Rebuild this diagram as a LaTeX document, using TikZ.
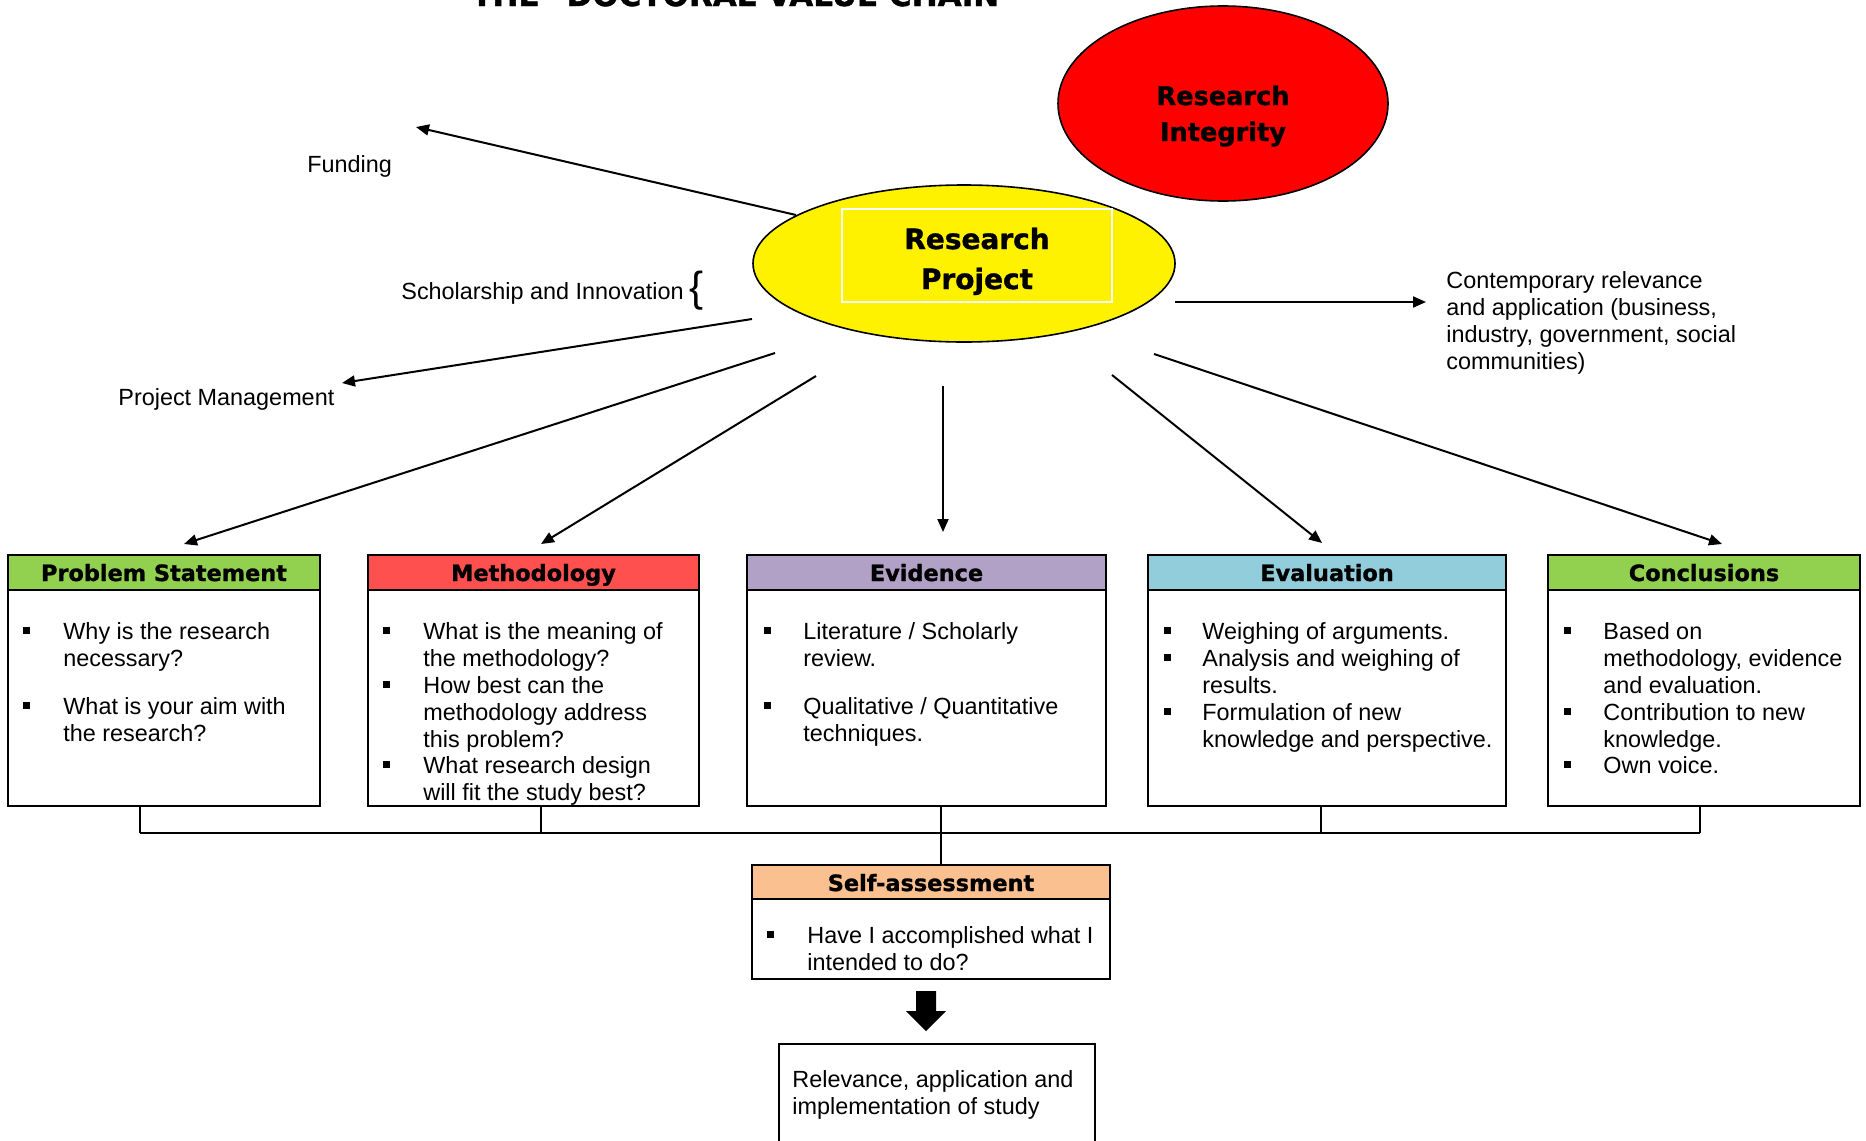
\documentclass[tikz,border=0pt]{standalone}
\usepackage{fontspec}
\setmainfont{Liberation Sans}
\newfontfamily\heavy{DejaVu Sans}[BoldFeatures={FakeBold=1.2}]
\usetikzlibrary{shapes.geometric,fit,arrows.meta,calc}
\definecolor{hgreen}{HTML}{92D050}
\definecolor{hred}{HTML}{FF5050}
\definecolor{hpurple}{HTML}{B2A1C7}
\definecolor{hblue}{HTML}{92CDDC}
\definecolor{horange}{HTML}{FAC090}
\begin{document}
% note: for multi-line nodes the base anchor is the baseline of the LAST line
\begin{tikzpicture}[x=0.5pt,y=-0.5pt,
  box/.style={draw, line width=1.2pt, inner sep=0pt},
  hdr/.style={anchor=base, inner sep=0pt, font=\heavy\bfseries\fontsize{11.2}{13}\selectfont},
  itm/.style={anchor=base west, align=left, inner sep=0pt, font=\fontsize{11.7}{13.5}\selectfont},
  lbl/.style={anchor=base west, align=left, inner sep=0pt, font=\fontsize{11.7}{13.5}\selectfont},
  bul/.style={rectangle, fill=black, minimum size=3.5pt, inner sep=0pt},
  arr/.style={-{Triangle[length=6.5pt,width=5.5pt]}, line width=1pt},
  conn/.style={line width=1pt}]
\useasboundingbox (0,0) rectangle (1866,1140);
\clip (0,0) rectangle (1866,1140);

% title (cut off at the top)
\node[anchor=base west, inner sep=0pt, font=\heavy\bfseries\fontsize{15.5}{18}\selectfont] (title) at (471,6) {THE "DOCTORAL VALUE CHAIN"};

% ellipses
\node[ellipse, draw, line width=0.8pt, fill=red, minimum width=165pt, minimum height=97.5pt, inner sep=0pt] (ri) at (1223,103.5) {};
\node[anchor=base, align=center, inner sep=0pt, font=\heavy\bfseries\fontsize{12.8}{18}\selectfont] (ritxt) at (1223,141) {Research\\Integrity};

\node[ellipse, draw, line width=0.8pt, fill=yellow, minimum width=211pt, minimum height=78.5pt, inner sep=0pt] (rp) at (964,263.5) {};
\node[draw=white, line width=0.6pt, inner sep=0pt, fit={(842,209)(1112,302)}] (rpbox) {};
\node[anchor=base, align=center, inner sep=0pt, font=\heavy\bfseries\fontsize{14}{20}\selectfont] (rptxt) at (977,289) {Research\\Project};

% side labels
\node[lbl] (funding) at (307,172) {Funding};
\node[lbl] (schol) at (401,299) {Scholarship and Innovation};
\node[anchor=base west, inner sep=0pt, font=\fontsize{21}{24}\selectfont] (brace) at (689,301) {\{};
\node[lbl] (pm) at (118,405) {Project Management};
\node[lbl] (contemp) at (1446,369) {Contemporary relevance\\and application (business,\\industry, government, social\\communities)};

% arrow end points
\coordinate (fundS) at (796,215);  \coordinate (fundE) at (416,127);
\coordinate (pmS) at (752,319);    \coordinate (pmE) at (342,383);
\coordinate (contS) at (1175,302); \coordinate (contE) at (1426,302);
\coordinate (psS) at (775,353);    \coordinate (psE) at (184,544);
\coordinate (methS) at (816,376);  \coordinate (methE) at (541,544);
\coordinate (evS) at (943,386);    \coordinate (evE) at (943,532);
\coordinate (evalS) at (1112,375); \coordinate (evalE) at (1322,543);
\coordinate (conS) at (1154,354);  \coordinate (conE) at (1722,544);

\draw[arr] (fundS) -- (fundE);
\draw[arr] (pmS) -- (pmE);
\draw[arr] (contS) -- (contE);
\draw[arr] (psS) -- (psE);
\draw[arr] (methS) -- (methE);
\draw[arr] (evS) -- (evE);
\draw[arr] (evalS) -- (evalE);
\draw[arr] (conS) -- (conE);

% boxes
\node[box, fit={(8,555)(320,806)}] (ps) {};
\node[box, fill=hgreen, fit={(8,555)(320,590)}] (psh) {};
\node[hdr] at (164,581) {Problem Statement};
\node[bul] at (26.5,630.5) {};
\node[itm] at (63,666) {Why is the research\\necessary?};
\node[bul] at (26.5,705.5) {};
\node[itm] at (63,741) {What is your aim with\\the research?};

\node[box, fit={(368,555)(699,806)}] (meth) {};
\node[box, fill=hred, fit={(368,555)(699,590)}] (methh) {};
\node[hdr] at (533.5,581) {Methodology};
\node[bul] at (386.5,630.5) {};
\node[itm] at (423,666) {What is the meaning of\\the methodology?};
\node[bul] at (386.5,684.5) {};
\node[itm] at (423,747) {How best can the\\methodology address\\this problem?};
\node[bul] at (386.5,764.5) {};
\node[itm] at (423,800) {What research design\\will fit the study best?};

\node[box, fit={(747,555)(1106,806)}] (ev) {};
\node[box, fill=hpurple, fit={(747,555)(1106,590)}] (evh) {};
\node[hdr] at (926.5,581) {Evidence};
\node[bul] at (767,630.5) {};
\node[itm] at (803,666) {Literature / Scholarly\\review.};
\node[bul] at (767,705.5) {};
\node[itm] at (803,741) {Qualitative / Quantitative\\techniques.};

\node[box, fit={(1148,555)(1506,806)}] (eval) {};
\node[box, fill=hblue, fit={(1148,555)(1506,590)}] (evalh) {};
\node[hdr] at (1327,581) {Evaluation};
\node[bul] at (1167,630.5) {};
\node[itm] at (1202,639) {Weighing of arguments.};
\node[bul] at (1167,657.5) {};
\node[itm] at (1202,693) {Analysis and weighing of\\results.};
\node[bul] at (1167,711.5) {};
\node[itm] at (1202,747) {Formulation of new\\knowledge and perspective.};

\node[box, fit={(1548,555)(1860,806)}] (con) {};
\node[box, fill=hgreen, fit={(1548,555)(1860,590)}] (conh) {};
\node[hdr] at (1704,581) {Conclusions};
\node[bul] at (1567,630.5) {};
\node[itm] at (1603,693) {Based on\\methodology, evidence\\and evaluation.};
\node[bul] at (1567,711.5) {};
\node[itm] at (1603,747) {Contribution to new\\knowledge.};
\node[bul] at (1567,764.5) {};
\node[itm] at (1603,773) {Own voice.};

% bracket connector
\coordinate (b1) at (140,833);
\coordinate (b2) at (541,833);
\coordinate (b3) at (941,833);
\coordinate (b4) at (1321,833);
\coordinate (b5) at (1700,833);
\draw[conn] (ps.south -| b1) -- (b1);
\draw[conn] (meth.south -| b2) -- (b2);
\draw[conn] (ev.south -| b3) -- (b3);
\draw[conn] (eval.south -| b4) -- (b4);
\draw[conn] (con.south -| b5) -- (b5);
\draw[conn] (b1) -- (b5);

% self-assessment
\node[box, fit={(752,865)(1110,979)}] (sa) {};
\node[box, fill=horange, fit={(752,865)(1110,899)}] (sah) {};
\node[hdr] at (931,891) {Self-assessment};
\node[bul] at (770,934.5) {};
\node[itm] at (807,970) {Have I accomplished what I\\intended to do?};
\draw[conn] (b3) -- (sa.north -| b3);

% block arrow
\fill (916,991) -- (936,991) -- (936,1011) -- (946,1011) -- (926,1031) -- (906,1011) -- (916,1011) -- cycle;

% final box
\node[box, fit={(779,1044)(1095,1175)}] (rel) {};
\node[itm] at (792,1114) {Relevance, application and\\implementation of study};
\end{tikzpicture}
\end{document}
